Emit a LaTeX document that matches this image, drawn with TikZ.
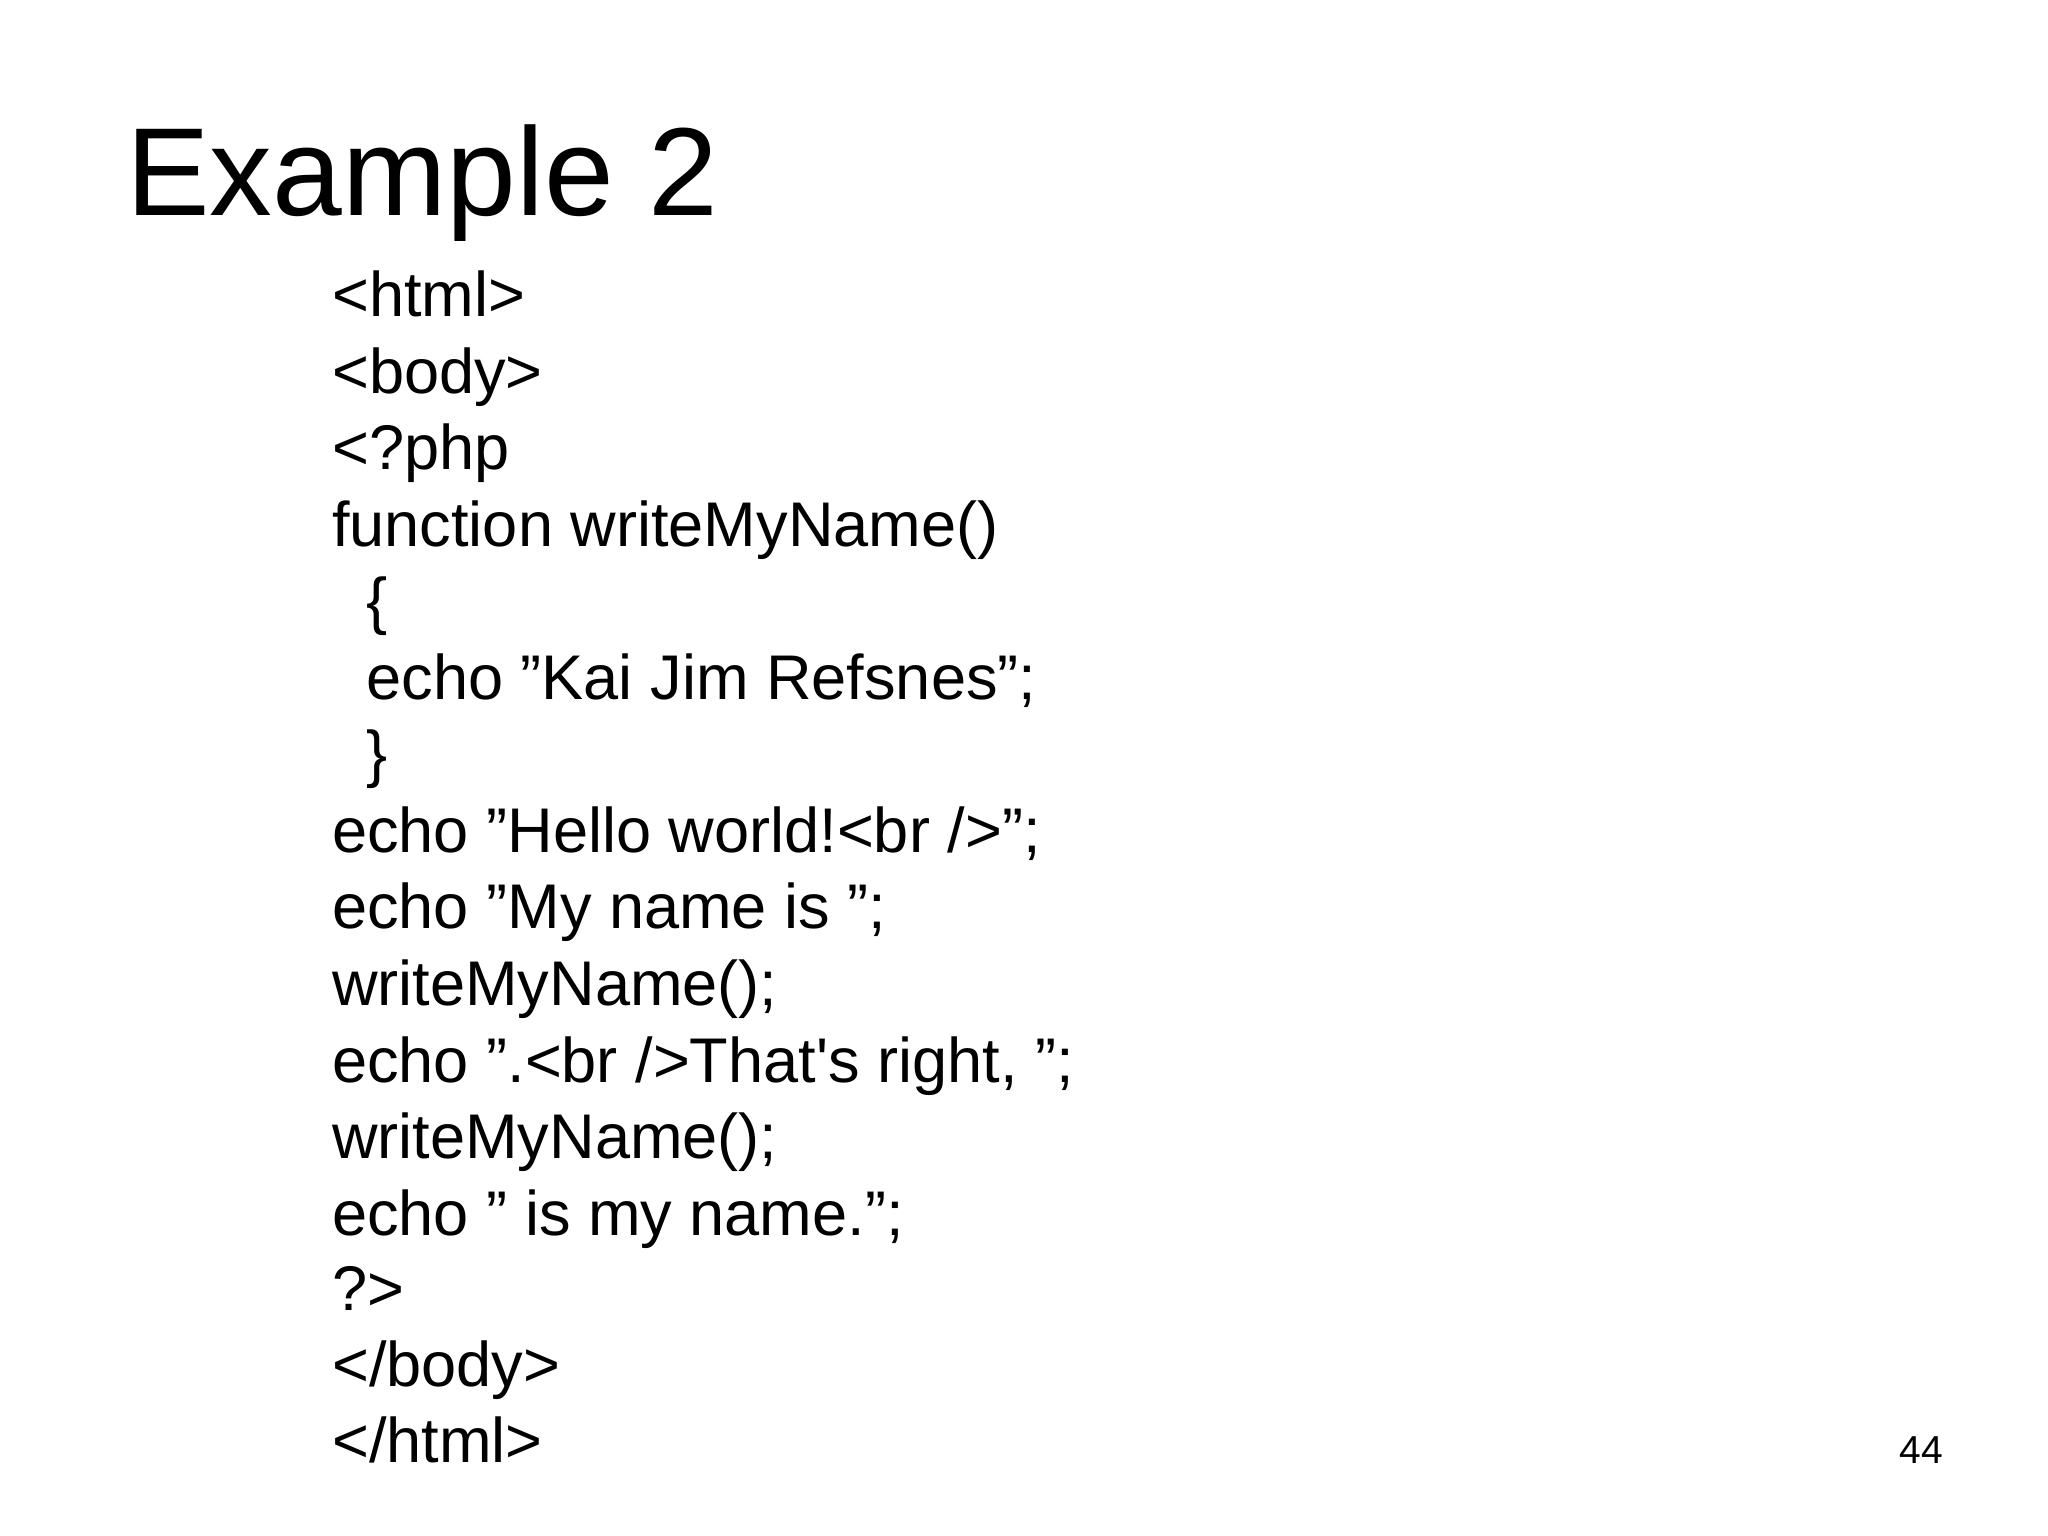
\documentclass[tikz,border=0pt]{standalone}
\usepackage{fontspec}
\setmainfont{Liberation Sans}
\begin{document}
\begin{tikzpicture}[x=0.01cm,y=-0.01cm,
  code/.style={anchor=base west,inner sep=0pt,font=\fontsize{13.6}{16}\selectfont}]
\useasboundingbox[fill=white] (0,0) rectangle (1552,1164);
\node[anchor=base west,inner sep=0pt,font=\fontsize{27}{32}\selectfont] (title) at (95,163) {Example 2};
\node[code] (l1) at (251,240) {<html>};
\node[code] (l2) at (251,298) {<body>};
\node[code] (l3) at (251,356) {<?php};
\node[code] (l4) at (251,414) {function writeMyName()};
\node[code] (l5) at (277,472) {\{};
\node[code] (l6) at (277,530) {echo "Kai Jim Refsnes";};
\node[code] (l7) at (277,588) {\}};
\node[code] (l8) at (251,646) {echo "Hello world!<br />";};
\node[code] (l9) at (251,704) {echo "My name is ";};
\node[code] (l10) at (251,762) {writeMyName();};
\node[code] (l11) at (251,820) {echo ".<br />That\textquotesingle s right, ";};
\node[code] (l12) at (251,878) {writeMyName();};
\node[code] (l13) at (251,936) {echo " is my name.";};
\node[code] (l14) at (251,993) {?>};
\node[code] (l15) at (251,1051) {</body>};
\node[code] (l16) at (251,1108) {</html>};
\node[anchor=base east,inner sep=0pt,font=\fontsize{8.4}{10}\selectfont] (num) at (1473,1109) {44};
\end{tikzpicture}
\end{document}
